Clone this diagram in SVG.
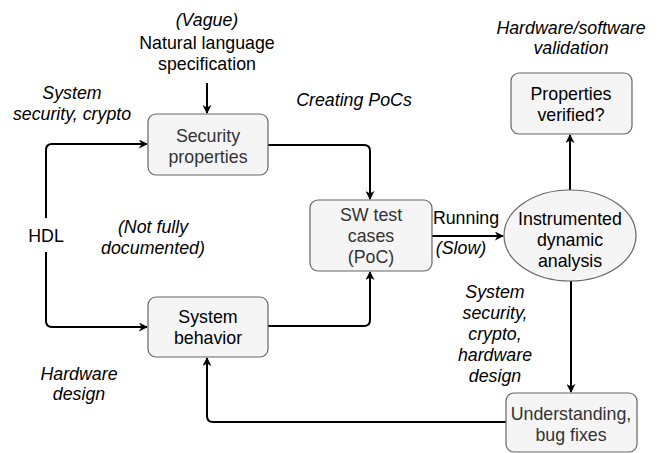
<svg xmlns="http://www.w3.org/2000/svg" width="660" height="453" viewBox="0 0 660 453">
<defs>
<marker id="ah" viewBox="0 0 10 10" refX="9" refY="5" markerWidth="9" markerHeight="9" markerUnits="userSpaceOnUse" orient="auto">
<path d="M0,0 L10,5 L0,10 L3,5 Z" fill="#000"/>
</marker>
<style>
text{font-family:"Liberation Sans",Arial,Helvetica,sans-serif;font-size:17.8px;text-anchor:middle;dominant-baseline:central;fill:#000}
.g{fill:#333}
.i{font-style:italic}
.box{fill:#f5f5f5;stroke:#666;stroke-width:1.2}
.e{fill:none;stroke:#000;stroke-width:2;marker-end:url(#ah)}
</style>
</defs>
<rect width="660" height="453" fill="#fff"/>
<g id="connectors">
<path class="e" d="M207,83 V113"/>
<path class="e" d="M268,145 H364 Q370,145 370,151 V199"/>
<path class="e" d="M268,326 H364 Q370,326 370,320 V272"/>
<path class="e" d="M46,218 V150 Q46,144 52,144 H147"/>
<path class="e" d="M46,252 V321 Q46,327 52,327 H147"/>
<path class="e" d="M432,236 H503"/>
<path class="e" d="M570,190 V135"/>
<path class="e" d="M571,281 V392"/>
<path class="e" d="M506,422 H213 Q207,422 207,416 V358"/>
</g>
<g id="spec">
<text class="i" x="207" y="20">(Vague)</text>
<text x="207" y="43">Natural language</text>
<text x="207" y="64">specification</text>
</g>
<g id="security-properties">
<rect class="box" x="148" y="114" width="120" height="61" rx="8"/>
<text class="g" x="208" y="136">Security</text>
<text class="g" x="208" y="157">properties</text>
</g>
<g id="system-behavior">
<rect class="box" x="148" y="297" width="120" height="60" rx="8"/>
<text x="208" y="317">System</text>
<text x="208" y="338">behavior</text>
</g>
<g id="sw-test">
<rect class="box" x="310" y="200" width="122" height="71" rx="8"/>
<text class="g" x="371" y="215">SW test</text>
<text class="g" x="371" y="236">cases</text>
<text class="g" x="371" y="257">(PoC)</text>
</g>
<g id="instrumented">
<ellipse class="box" cx="570" cy="235.5" rx="66" ry="45.5"/>
<text x="570" y="219">Instrumented</text>
<text x="570" y="240">dynamic</text>
<text x="570" y="261">analysis</text>
</g>
<g id="properties-verified">
<rect class="box" x="511" y="73" width="121" height="61" rx="8"/>
<text x="571" y="94">Properties</text>
<text x="571" y="115">verified?</text>
</g>
<g id="understanding">
<rect class="box" x="506" y="393" width="131" height="59" rx="8"/>
<text class="g" x="571" y="414">Understanding,</text>
<text class="g" x="571" y="435">bug fixes</text>
</g>
<g id="labels">
<text class="i" x="72" y="93">System</text>
<text class="i" x="72" y="114">security, crypto</text>
<text class="i" x="354" y="100">Creating PoCs</text>
<text class="i" x="571" y="28">Hardware/software</text>
<text class="i" x="571" y="48">validation</text>
<text x="46" y="236">HDL</text>
<text class="i" x="153" y="227">(Not fully</text>
<text class="i" x="153" y="248">documented)</text>
<text class="i" x="79" y="374">Hardware</text>
<text class="i" x="79" y="394">design</text>
<text x="466" y="218">Running</text>
<text class="i" x="461" y="248">(Slow)</text>
<text class="i" x="495" y="292">System</text>
<text class="i" x="495" y="313">security,</text>
<text class="i" x="495" y="334">crypto,</text>
<text class="i" x="495" y="355">hardware</text>
<text class="i" x="495" y="376">design</text>
</g>
</svg>
